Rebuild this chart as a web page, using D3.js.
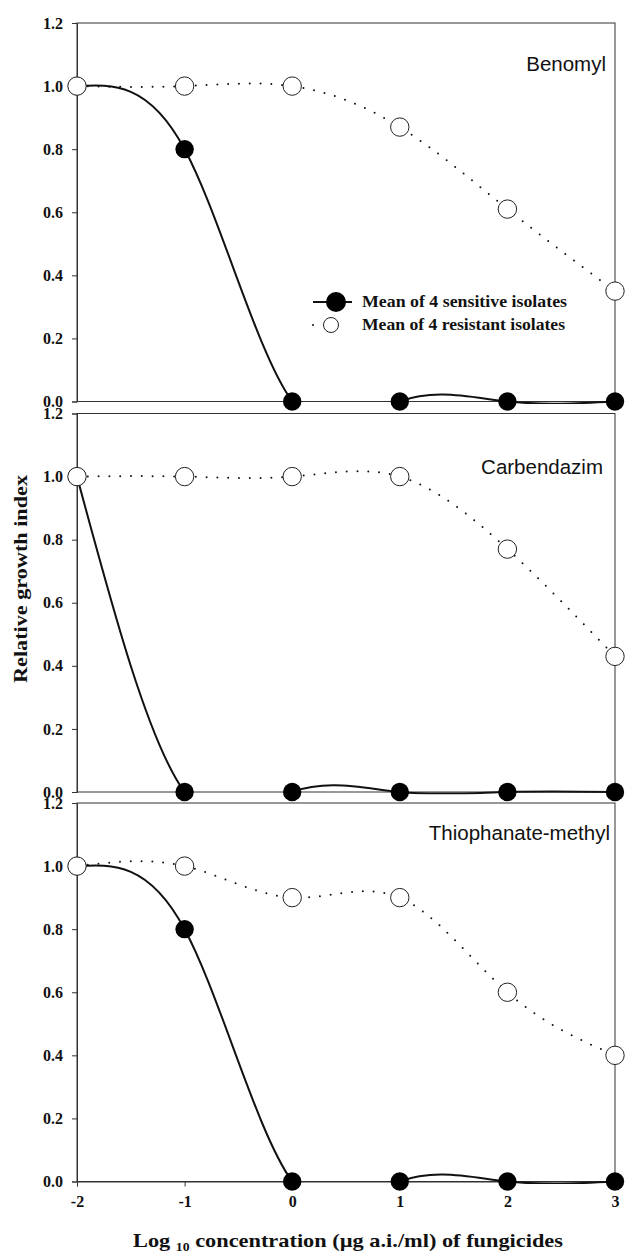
<!DOCTYPE html>
<html>
<head>
<meta charset="utf-8">
<script src="https://cdn.jsdelivr.net/npm/d3@7"></script>
<style>
  html, body { margin: 0; padding: 0; background: #fff; }
  svg { display: block; }
</style>
</head>
<body>
<svg id="chart" width="626" height="1253"></svg>
<script>
// ---- data ----
const concentrations = [-2, -1, 0, 1, 2, 3];
const fungicides = ["Benomyl", "Carbendazim", "Thiophanate-methyl"];
const sensitiveBenomyl = [1.0, 0.8, 0.0, 0.0, 0.0, 0.0];
const resistantBenomyl = [1.0, 1.0, 1.0, 0.87, 0.61, 0.35];
const sensitiveCarbendazim = [1.0, 0.0, 0.0, 0.0, 0.0, 0.0];
const resistantCarbendazim = [1.0, 1.0, 1.0, 1.0, 0.77, 0.43];
const sensitiveThiophanate = [1.0, 0.8, 0.0, 0.0, 0.0, 0.0];
const resistantThiophanate = [1.0, 1.0, 0.9, 0.9, 0.6, 0.4];
const yTickValues = [0.0, 0.2, 0.4, 0.6, 0.8, 1.0, 1.2];
const xTickValues = [-2, -1, 0, 1, 2, 3];
const legendLabels = ["Mean of 4 sensitive isolates", "Mean of 4 resistant isolates"];
const yTitle = "Relative growth index";

const sensitiveSeries = [sensitiveBenomyl, sensitiveCarbendazim, sensitiveThiophanate];
const resistantSeries = [resistantBenomyl, resistantCarbendazim, resistantThiophanate];

// ---- layout ----
const X0 = 77, X1 = 615;
const panelTops = [23, 413.5, 803];
const panelH = 378.5;
const titlePos = [[606, 71], [603, 474], [610, 840]];
const serif = "'Liberation Serif', 'Times New Roman', serif";
const sans = "'Liberation Sans', Arial, sans-serif";

const svg = d3.select("#chart");
const x = d3.scaleLinear().domain([-2, 3]).range([X0, X1]);
const lineColor = "#111";

fungicides.forEach((name, i) => {
  const top = panelTops[i], bottom = top + panelH;
  const y = d3.scaleLinear().domain([0, 1.2]).range([bottom, top]);
  const g = svg.append("g");

  // clip
  const cid = "clip" + i;
  svg.append("clipPath").attr("id", cid).append("rect")
    .attr("x", X0).attr("y", top).attr("width", X1 - X0).attr("height", panelH + 2.5);

  // frame
  g.append("rect").attr("x", X0).attr("y", top).attr("width", X1 - X0).attr("height", panelH)
    .attr("fill", "none").attr("stroke", "#333").attr("stroke-width", 1);

  // y axis
  const ya = g.append("g").attr("transform", `translate(${X0},0)`)
    .call(d3.axisLeft(y).tickValues(yTickValues).tickFormat(d3.format(".1f")).tickSize(5).tickPadding(9));
  ya.select(".domain").attr("stroke", "#333");
  ya.selectAll(".tick line").attr("stroke", "#333");
  ya.selectAll(".tick text").attr("font-family", serif).attr("font-weight", "bold")
    .attr("font-size", 16).attr("fill", "#111");

  // x axis on last panel
  if (i === fungicides.length - 1) {
    const xa = g.append("g").attr("transform", `translate(0,${bottom})`)
      .call(d3.axisBottom(x).tickValues(xTickValues).tickFormat(d3.format("d")).tickSize(5).tickPadding(9));
    xa.select(".domain").attr("stroke", "#333");
    xa.selectAll(".tick line").attr("stroke", "#333");
    xa.selectAll(".tick text").attr("font-family", serif).attr("font-weight", "bold")
      .attr("font-size", 16).attr("fill", "#111").text(d => d < 0 ? "-" + Math.abs(d) : d);
  }

  const line = d3.line().x((d, j) => x(concentrations[j])).y(d => y(d)).curve(d3.curveNatural);

  const lg = g.append("g").attr("clip-path", `url(#${cid})`);
  lg.append("path").datum(sensitiveSeries[i]).attr("d", line)
    .attr("fill", "none").attr("stroke", lineColor).attr("stroke-width", 2);
  lg.append("path").datum(resistantSeries[i]).attr("d", line)
    .attr("fill", "none").attr("stroke", lineColor).attr("stroke-width", 2)
    .attr("stroke-linecap", "round").attr("stroke-dasharray", "0,10.8");

  g.selectAll(".sens").data(sensitiveSeries[i]).join("circle")
    .attr("cx", (d, j) => x(concentrations[j])).attr("cy", d => y(d)).attr("r", 9.2)
    .attr("fill", "#000");
  g.selectAll(".res").data(resistantSeries[i]).join("circle")
    .attr("cx", (d, j) => x(concentrations[j])).attr("cy", d => y(d)).attr("r", 9.2)
    .attr("fill", "#fff").attr("stroke", "#222").attr("stroke-width", 1);

  g.append("text").attr("x", titlePos[i][0]).attr("y", titlePos[i][1])
    .attr("text-anchor", "end").attr("font-family", sans).attr("font-size", 20.5)
    .attr("fill", "#111").text(name);
});

// legend (in first panel)
const leg = svg.append("g");
leg.append("line").attr("x1", 313).attr("x2", 352).attr("y1", 302).attr("y2", 302)
  .attr("stroke", lineColor).attr("stroke-width", 2);
leg.append("circle").attr("cx", 336).attr("cy", 302).attr("r", 10).attr("fill", "#000");
leg.append("line").attr("x1", 313).attr("x2", 349).attr("y1", 325).attr("y2", 325)
  .attr("stroke", lineColor).attr("stroke-width", 2).attr("stroke-linecap", "round")
  .attr("stroke-dasharray", "0,36");
leg.append("circle").attr("cx", 331).attr("cy", 325).attr("r", 7.5)
  .attr("fill", "#fff").attr("stroke", "#222").attr("stroke-width", 1);
leg.append("text").attr("x", 362).attr("y", 307).attr("font-family", serif).attr("font-weight", "bold")
  .attr("font-size", 16).attr("fill", "#111").attr("textLength", 205).attr("lengthAdjust", "spacingAndGlyphs")
  .text(legendLabels[0]);
leg.append("text").attr("x", 362).attr("y", 330).attr("font-family", serif).attr("font-weight", "bold")
  .attr("font-size", 16).attr("fill", "#111").attr("textLength", 203).attr("lengthAdjust", "spacingAndGlyphs")
  .text(legendLabels[1]);

// y title
svg.append("text").attr("transform", "translate(27,579) rotate(-90)")
  .attr("text-anchor", "middle").attr("font-family", serif).attr("font-weight", "bold")
  .attr("font-size", 19).attr("fill", "#111").attr("textLength", 208).attr("lengthAdjust", "spacingAndGlyphs")
  .text(yTitle);

// x title
const xt = svg.append("text").attr("x", 133).attr("y", 1247)
  .attr("font-family", serif).attr("font-weight", "bold").attr("font-size", 19.5).attr("fill", "#111")
  .attr("textLength", 430).attr("lengthAdjust", "spacingAndGlyphs");
xt.append("tspan").text("Log ");
xt.append("tspan").attr("font-size", 12).attr("dy", 4).text("10");
xt.append("tspan").attr("dy", -4).text(" concentration (\u00b5g a.i./ml) of fungicides");
</script>
</body>
</html>
